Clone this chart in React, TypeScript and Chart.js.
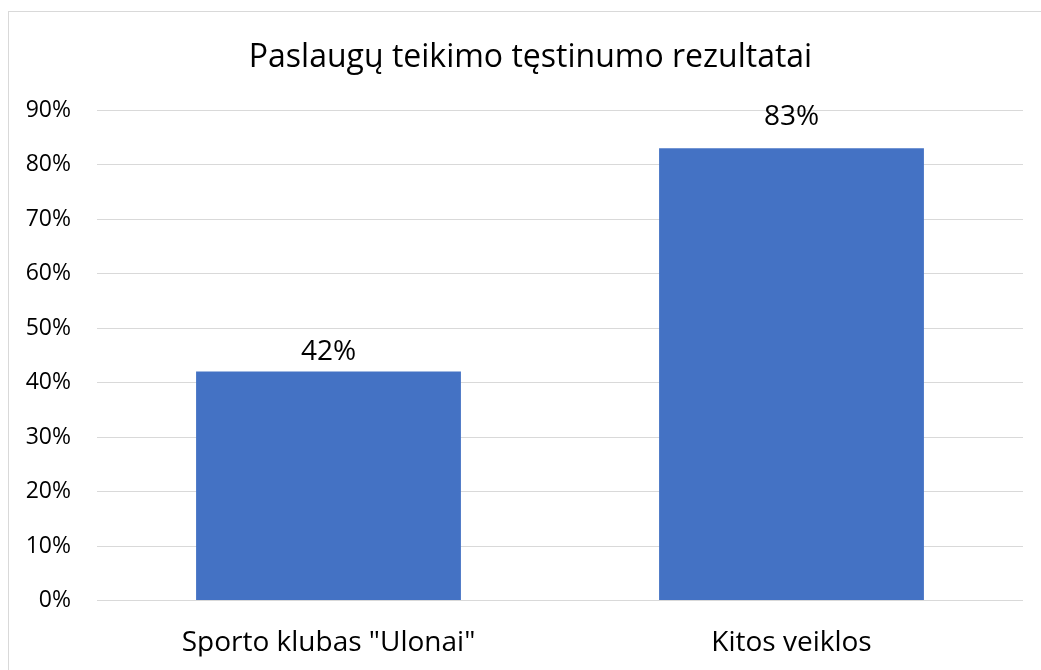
import React, { useEffect, useRef } from "react";
import { Chart, registerables } from "chart.js";

Chart.register(...registerables);

const titleText = "Paslaugų teikimo tęstinumo rezultatai";
const categories = ['Sporto klubas "Ulonai"', "Kitos veiklos"];
const values = [0.42, 0.83];
const valueLabels = ["42%", "83%"];
const yTickLabels = ["0%", "10%", "20%", "30%", "40%", "50%", "60%", "70%", "80%", "90%"];

const FONT = "'Open Sans', 'DejaVu Sans', sans-serif";

const frameAndLabels = {
  id: "frameAndLabels",
  beforeDraw(chart: any) {
    const ctx = chart.ctx;
    ctx.save();
    ctx.fillStyle = "#ffffff";
    ctx.fillRect(0, 0, chart.width, chart.height);
    ctx.strokeStyle = "#d9d9d9";
    ctx.lineWidth = 1;
    ctx.strokeRect(8.5, 11.5, 1100, 700);
    ctx.restore();
  },
  afterDatasetsDraw(chart: any, _args: any, opts: any) {
    const ctx = chart.ctx;
    const meta = chart.getDatasetMeta(0);
    ctx.save();
    ctx.fillStyle = "#000";
    ctx.textAlign = "center";
    ctx.textBaseline = "alphabetic";
    ctx.font = `28px ${FONT}`;
    meta.data.forEach((bar: any, i: number) => {
      const off = (opts.offsets && opts.offsets[i]) || 12;
      ctx.fillText(valueLabels[i], bar.x, bar.y - off);
    });
    // chart title (centred on the chart frame)
    ctx.font = `32px ${FONT}`;
    ctx.fillText(titleText, opts.titleX, opts.titleBaseline);
    ctx.restore();
  },
};

export default function App() {
  const ref = useRef<HTMLCanvasElement | null>(null);
  useEffect(() => {
    document.body.style.background = "#fff";
    const chart = new Chart(ref.current as HTMLCanvasElement, {
      type: "bar",
      data: {
        labels: categories,
        datasets: [
          {
            data: values,
            backgroundColor: "#4472C4",
            borderWidth: 0,
            categoryPercentage: 1,
            barPercentage: 0.572,
          },
        ],
      },
      options: {
        animation: false,
        responsive: false,
        maintainAspectRatio: false,
        layout: { padding: { left: 0, right: 18, top: 110, bottom: 13.5 } },
        plugins: {
          legend: { display: false },
          tooltip: { enabled: false },
          title: { display: false },
          frameAndLabels: { offsets: [12, 23], titleX: 530.5, titleBaseline: 66.5 },
        } as any,
        scales: {
          x: {
            grid: { display: false, drawTicks: false },
            border: { display: false },
            ticks: {
              color: "#000",
              font: { family: FONT, size: 28 },
              padding: 26,
              maxRotation: 0,
            },
            afterFit: (s: any) => {
              s.height = 56;
            },
          },
          y: {
            min: 0,
            max: 0.9,
            grid: { color: "#d9d9d9", lineWidth: 1, drawTicks: false },
            border: { display: false },
            ticks: {
              stepSize: 0.1,
              color: "#000",
              font: { family: FONT, size: 23 },
              padding: 26,
              callback: (_v: any, i: number) => yTickLabels[i],
            },
            afterFit: (s: any) => {
              s.width = 97;
            },
          },
        },
      },
      plugins: [frameAndLabels],
    });
    return () => chart.destroy();
  }, []);
  return (
    <canvas
      ref={ref}
      width={1041}
      height={670}
      style={{ position: "fixed", left: 0, top: 0, width: 1041, height: 670 }}
    />
  );
}
